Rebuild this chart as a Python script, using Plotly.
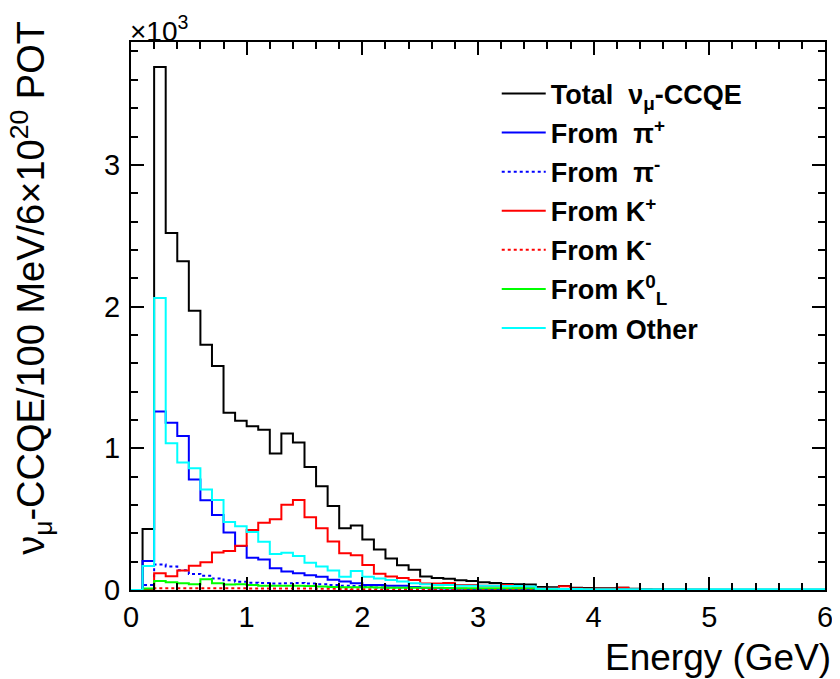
import plotly.graph_objects as go

# 60 bins of 100 MeV from 0 to 6 GeV; values in units of 10^3 events
bin_width = 0.1
n_bins = 60

total = [0, 0.43, 3.69, 2.52, 2.32, 1.97, 1.73, 1.58, 1.25, 1.195,
         1.155, 1.13, 0.963, 1.105, 1.04, 0.868, 0.732, 0.593, 0.435, 0.456,
         0.356, 0.285, 0.222, 0.174, 0.143, 0.095, 0.085, 0.08, 0.068, 0.064,
         0.054, 0.05, 0.042, 0.04, 0.038, 0.022, 0.02, 0.028, 0.016, 0.014,
         0.012, 0.012, 0.016, 0.008, 0.005, 0.004, 0.003, 0.003, 0.002, 0.002,
         0.002, 0.002, 0.001, 0.001, 0.001, 0.001, 0.001, 0.001, 0.001, 0.001]

pi_plus = [0, 0.205, 1.26, 1.18, 1.087, 0.78, 0.633, 0.53, 0.405, 0.31,
           0.228, 0.216, 0.153, 0.13, 0.118, 0.104, 0.094, 0.072, 0.06, 0.047,
           0.035, 0.035, 0.03, 0.03, 0.022, 0.015, 0.012, 0.01, 0.008, 0.007,
           0.006, 0.005, 0.004, 0.004, 0.003, 0.002, 0.002, 0.002, 0.001, 0.001,
           0.001, 0.001, 0.001, 0.001, 0, 0, 0, 0, 0, 0,
           0, 0, 0, 0, 0, 0, 0, 0, 0, 0]

pi_minus = [0, 0.035, 0.18, 0.165, 0.14, 0.113, 0.1, 0.082, 0.068, 0.058,
            0.052, 0.05, 0.045, 0.048, 0.05, 0.045, 0.04, 0.035, 0.03, 0.028,
            0.022, 0.018, 0.015, 0.012, 0.01, 0.008, 0.007, 0.006, 0.005, 0.004,
            0.004, 0.003, 0.003, 0.002, 0.002, 0.001, 0.001, 0.001, 0.001, 0.001,
            0, 0, 0, 0, 0, 0, 0, 0, 0, 0,
            0, 0, 0, 0, 0, 0, 0, 0, 0, 0]

k_plus = [0, 0, 0.118, 0.097, 0.138, 0.172, 0.195, 0.265, 0.275, 0.313,
          0.424, 0.475, 0.499, 0.602, 0.635, 0.513, 0.435, 0.343, 0.259, 0.245,
          0.176, 0.115, 0.095, 0.085, 0.07, 0.045, 0.045, 0.05, 0.035, 0.035,
          0.03, 0.03, 0.035, 0.025, 0.02, 0.01, 0.01, 0.026, 0.01, 0.008,
          0.008, 0.008, 0.015, 0.005, 0.003, 0.002, 0.002, 0.001, 0.001, 0.001,
          0, 0, 0, 0, 0, 0, 0, 0, 0, 0]

k_minus = [0, 0, 0.012, 0.012, 0.012, 0.012, 0.012, 0.012, 0.012, 0.012,
           0.011, 0.01, 0.01, 0.01, 0.01, 0.01, 0.008, 0.008, 0.007, 0.006,
           0.005, 0.004, 0.004, 0.003, 0.003, 0.002, 0.002, 0.002, 0.001, 0.001,
           0, 0, 0, 0, 0, 0, 0, 0, 0, 0,
           0, 0, 0, 0, 0, 0, 0, 0, 0, 0,
           0, 0, 0, 0, 0, 0, 0, 0, 0, 0]

k0_long = [0, 0.01, 0.064, 0.054, 0.047, 0.04, 0.075, 0.047, 0.038, 0.04,
           0.035, 0.03, 0.03, 0.03, 0.03, 0.028, 0.025, 0.022, 0.02, 0.02,
           0.02, 0.018, 0.016, 0.015, 0.015, 0.015, 0.015, 0.014, 0.013, 0.012,
           0.012, 0.012, 0.012, 0.012, 0.012, 0.003, 0.002, 0.002, 0.001, 0.001,
           0, 0, 0, 0, 0, 0, 0, 0, 0, 0,
           0, 0, 0, 0, 0, 0, 0, 0, 0, 0]

other = [0, 0.17, 2.06, 1.035, 0.9, 0.86, 0.71, 0.635, 0.48, 0.45,
         0.41, 0.34, 0.254, 0.263, 0.24, 0.193, 0.165, 0.138, 0.094, 0.134,
         0.094, 0.082, 0.07, 0.06, 0.047, 0.04, 0.035, 0.035, 0.03, 0.03,
         0.03, 0.03, 0.028, 0.028, 0.025, 0.008, 0.008, 0.007, 0.007, 0.006,
         0.006, 0.006, 0.005, 0.005, 0.005, 0.005, 0.005, 0.005, 0.005, 0.005,
         0.005, 0.005, 0.005, 0.005, 0.005, 0.005, 0.005, 0.005, 0.005, 0.005]

series_names = ["Total  ν<sub>μ</sub>-CCQE", "From  π<sup>+</sup>", "From  π<sup>-</sup>",
                "From K<sup>+</sup>", "From K<sup>-</sup>", "From K<sup>0</sup><sub>L</sub>",
                "From Other"]

edges = [round(i * bin_width, 3) for i in range(n_bins + 1)]

FONT = "Liberation Sans, Arial, Helvetica, sans-serif"

series = [
    (total, "#000000", "solid"),
    (pi_plus, "#0000ff", "solid"),
    (pi_minus, "#0000ff", "dot"),
    (k_plus, "#ff0000", "solid"),
    (k_minus, "#ff0000", "dot"),
    (k0_long, "#00ff00", "solid"),
    (other, "#00ffff", "solid"),
]

fig = go.Figure()
for i, ((vals, color, dash), name) in enumerate(zip(series, series_names)):
    fig.add_trace(go.Scatter(
        x=edges,
        y=list(vals) + [vals[-1]],
        mode="lines",
        line=dict(shape="hv", color=color, width=2, dash=dash),
        name=name,
        legendgroup=f"g{i}",
    ))

axis_common = dict(
    showline=True, linecolor="black", linewidth=2, mirror="ticks",
    ticks="inside", ticklen=13, tickwidth=1.5, tickcolor="black",
    showgrid=False, zeroline=False,
    tickfont=dict(family=FONT, size=29, color="black"),
)

fig.update_xaxes(range=[0, 6], dtick=1, tick0=0,
                 minor=dict(ticks="inside", ticklen=7, dtick=0.2, tick0=0,
                            tickcolor="black", tickwidth=1.5),
                 ticklabelstandoff=0,
                 **axis_common)
fig.update_yaxes(range=[0, 3.867], dtick=1, tick0=0,
                 minor=dict(ticks="inside", ticklen=7, dtick=0.2, tick0=0,
                            tickcolor="black", tickwidth=1.5),
                 ticklabelstandoff=3,
                 **axis_common)

# the page body adds an 8 px offset; size and margins compensate for it
fig.update_layout(
    width=832, height=671,
    margin=dict(l=123, r=7, t=34, b=89),
    paper_bgcolor="white", plot_bgcolor="white",
    font=dict(family=FONT, color="black"),
    showlegend=True,
    legend=dict(
        x=0.527, y=0.95, xanchor="left", yanchor="top",
        font=dict(family=FONT, size=27, color="black", weight="bold"),
        bgcolor="rgba(0,0,0,0)", borderwidth=0,
        tracegroupgap=1, itemwidth=44,
    ),
    annotations=[
        dict(text="Energy (GeV)", xref="paper", yref="paper", x=1.011, y=-0.1223,
             xanchor="right", yanchor="middle", showarrow=False,
             font=dict(family=FONT, size=37, color="black")),
        dict(text="ν<sub>μ</sub>-CCQE/100 MeV/6×10<sup>20</sup> POT",
             xref="paper", yref="paper", x=-0.145, y=0.552,
             xanchor="center", yanchor="middle", textangle=-90, showarrow=False,
             font=dict(family=FONT, size=38, color="black")),
        dict(text="×10<sup>3</sup>", xref="paper", yref="paper", x=-0.004, y=1.0602,
             xanchor="left", yanchor="top", showarrow=False,
             font=dict(family=FONT, size=28, color="black")),
    ],
)

fig.write_html("out.html")
